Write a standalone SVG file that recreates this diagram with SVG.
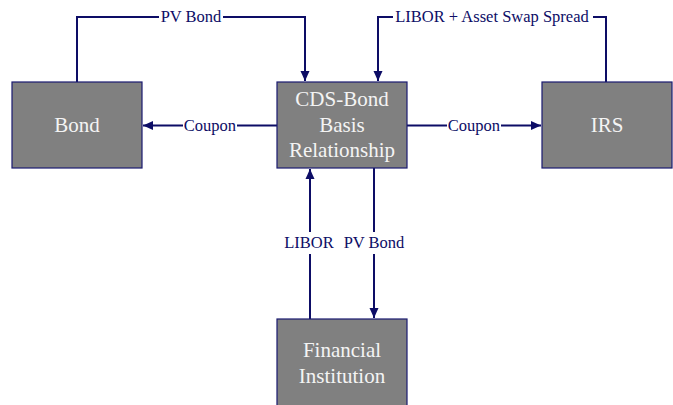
<svg xmlns="http://www.w3.org/2000/svg" width="673" height="405" viewBox="0 0 673 405">
<defs>
<marker id="ah" viewBox="0 0 10 10" refX="10" refY="5" markerWidth="10" markerHeight="10" markerUnits="userSpaceOnUse" orient="auto">
<path d="M0,0.5 L10,5 L0,9.5 z" fill="#0d0d66"/>
</marker>
<style>
.box{fill:#808080;stroke:#1a1a70;stroke-width:1.2}
.nt{font-family:"Liberation Serif",serif;font-size:21px;fill:#f4f4f4;text-anchor:middle}
.ln{fill:none;stroke:#0d0d66;stroke-width:2}
.lb{font-family:"Liberation Serif",serif;font-size:16.5px;fill:#0d0d66;text-anchor:middle}
.bg{fill:#ffffff}
</style>
</defs>
<rect width="673" height="405" fill="#ffffff"/>
<g id="connectors">
<path class="ln" d="M77,82 V17 H305 V81" marker-end="url(#ah)"/>
<path class="ln" d="M606,82 V17 H378 V81" marker-end="url(#ah)"/>
<path class="ln" d="M277,125.5 H143" marker-end="url(#ah)"/>
<path class="ln" d="M407,125.5 H541" marker-end="url(#ah)"/>
<path class="ln" d="M310,319 V169" marker-end="url(#ah)"/>
<path class="ln" d="M374,168 V318" marker-end="url(#ah)"/>
<rect class="bg" x="159" y="8" width="64" height="18"/>
<text class="lb" x="191" y="22">PV Bond</text>
<rect class="bg" x="393" y="8" width="200" height="18"/>
<text class="lb" x="492" y="22">LIBOR + Asset Swap Spread</text>
<rect class="bg" x="183" y="117" width="54" height="18"/>
<text class="lb" x="210" y="131">Coupon</text>
<rect class="bg" x="447" y="117" width="54" height="18"/>
<text class="lb" x="474" y="131">Coupon</text>
<rect class="bg" x="284" y="232" width="52" height="22"/>
<text class="lb" x="309" y="248">LIBOR</text>
<rect class="bg" x="343" y="232" width="64" height="22"/>
<text class="lb" x="374" y="248">PV Bond</text>
</g>
<g id="bond">
<rect class="box" x="12" y="82" width="130" height="86"/>
<text class="nt" x="77" y="132">Bond</text>
</g>
<g id="cds">
<rect class="box" x="277" y="82" width="130" height="86"/>
<text class="nt" x="342" y="106">CDS-Bond</text>
<text class="nt" x="342" y="132">Basis</text>
<text class="nt" x="342" y="157">Relationship</text>
</g>
<g id="irs">
<rect class="box" x="542" y="82" width="130" height="86"/>
<text class="nt" x="607" y="132">IRS</text>
</g>
<g id="fi">
<rect class="box" x="277" y="319" width="130" height="90"/>
<text class="nt" x="342" y="357">Financial</text>
<text class="nt" x="342" y="383">Institution</text>
</g>
</svg>
